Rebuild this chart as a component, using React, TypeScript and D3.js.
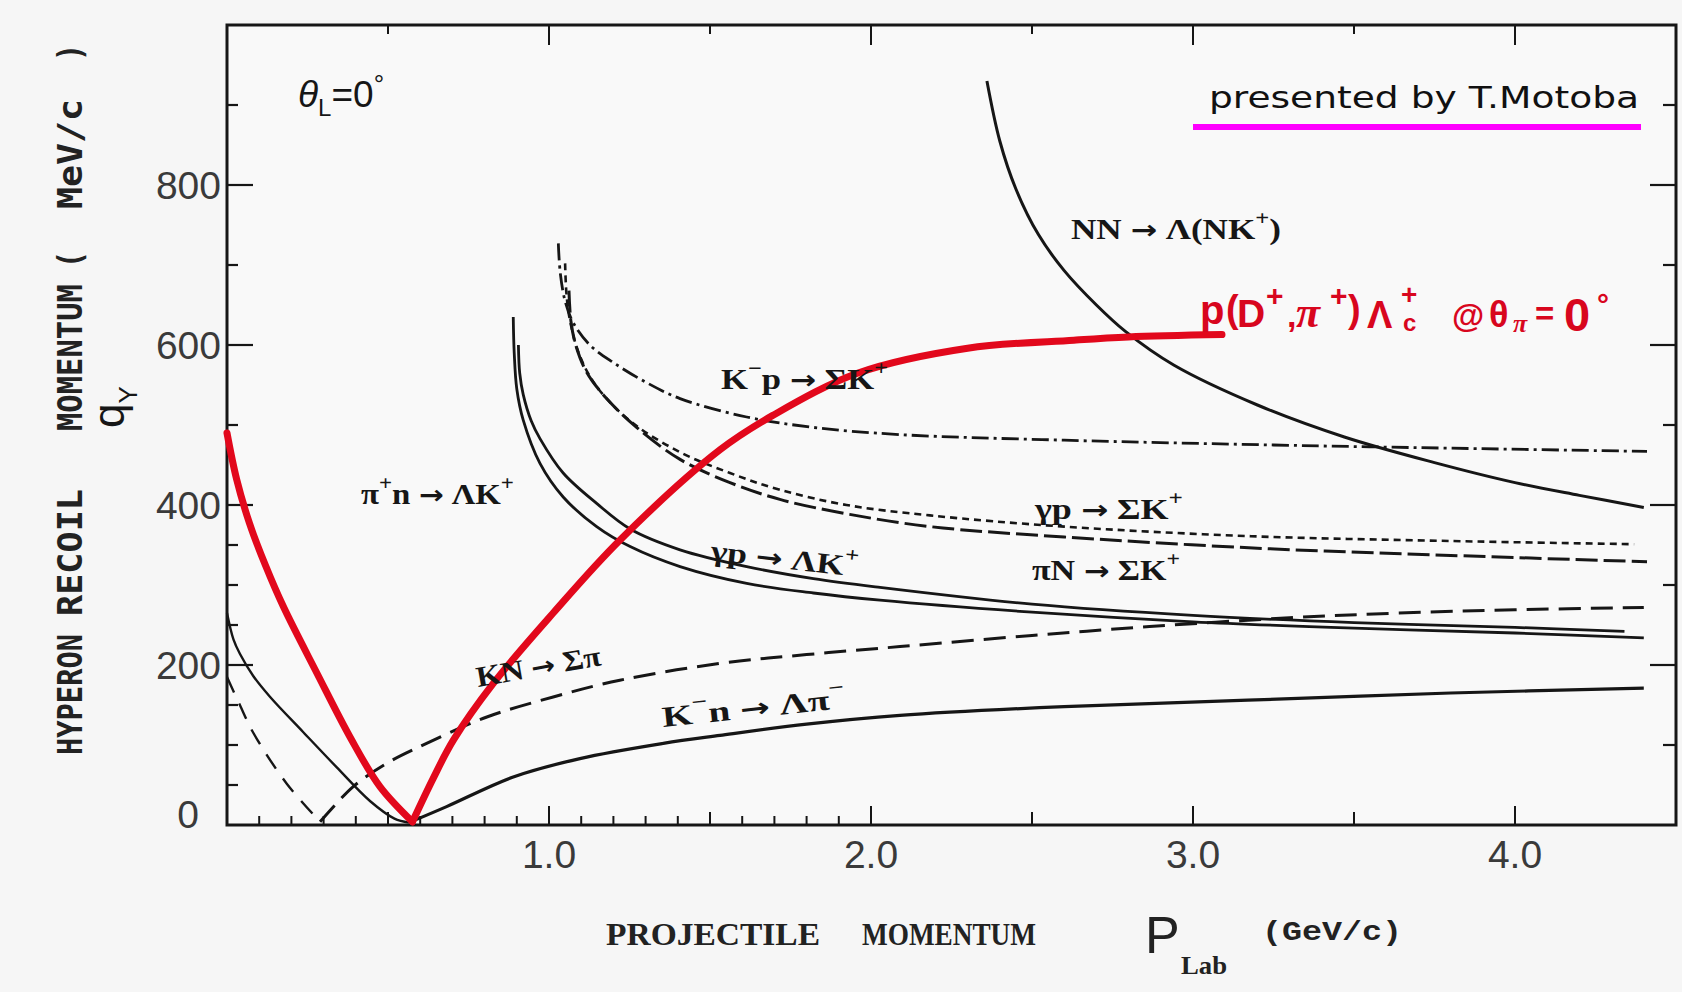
import React from "react";
import * as d3 from "d3";

type Pt = [number, number];

// projectile momentum p_lab (GeV/c) vs hyperon recoil momentum q (MeV/c), theta = 0
const nnLambdaNK: Pt[] = [[2.36, 930], [2.4, 855], [2.45, 795], [2.52, 738], [2.6, 693], [2.7, 650], [2.79, 617], [2.94, 575], [3.2, 525], [3.47, 485], [3.75, 453], [4.0, 428], [4.2, 412], [4.4, 397]];
const kmpSigmaK: Pt[] = [[1.029, 727], [1.035, 690], [1.05, 655], [1.075, 628], [1.127, 600], [1.2, 578], [1.303, 553], [1.407, 533], [1.614, 510], [1.821, 497], [2.09, 488], [2.6, 481], [3.25, 475], [3.8, 471], [4.41, 467]];
const gpSigmaK: Pt[] = [[1.05, 702], [1.055, 660], [1.068, 625], [1.096, 586], [1.148, 548], [1.252, 505], [1.407, 466], [1.562, 440], [1.717, 419], [1.924, 400], [2.183, 387], [2.6, 373], [3.18, 361], [3.8, 355], [4.37, 351]];
const piNSigmaK: Pt[] = [[1.062, 668], [1.068, 630], [1.083, 600], [1.117, 566], [1.179, 533], [1.272, 497], [1.407, 457], [1.562, 428], [1.717, 407], [1.924, 389], [2.183, 373], [2.6, 360], [3.2, 346], [3.8, 337], [4.41, 329]];
const pipnLambdaK: Pt[] = [[0.889, 635], [0.892, 590], [0.9, 545], [0.92, 506], [0.972, 452], [1.044, 410], [1.148, 373], [1.252, 348], [1.407, 323], [1.614, 302], [1.821, 290], [2.028, 281], [2.5, 266], [3.0, 254], [3.5, 246], [4.0, 240], [4.4, 234]];
const gpLambdaK: Pt[] = [[0.905, 600], [0.909, 565], [0.92, 538], [0.945, 505], [0.972, 483], [1.044, 440], [1.148, 402], [1.252, 370], [1.407, 344], [1.614, 323], [1.821, 308], [2.028, 297], [2.5, 276], [3.0, 262], [3.5, 253], [4.0, 247], [4.34, 242]];
const kbarNSigmaPiLow: Pt[] = [[0, 185], [0.04, 150], [0.082, 115], [0.185, 52], [0.289, 4]];
const kbarNSigmaPiHigh: Pt[] = [[0.289, 4], [0.392, 48], [0.496, 77], [0.599, 98], [0.807, 135], [1.013, 160], [1.22, 181], [1.531, 202], [1.8, 213], [2.09, 223], [2.5, 237], [2.865, 248], [3.3, 259], [3.64, 265], [4.0, 269], [4.4, 272]];
const kmnLambdaPiLow: Pt[] = [[0, 265], [0.02, 232], [0.04, 214], [0.082, 186], [0.134, 160], [0.237, 116], [0.341, 72], [0.444, 30], [0.52, 8], [0.565, 3]];
const kmnLambdaPiHigh: Pt[] = [[0.565, 3], [0.682, 23], [0.889, 60], [1.096, 83], [1.355, 102], [1.531, 112], [1.8, 126], [2.09, 137], [2.6, 148], [3.17, 156], [3.8, 165], [4.4, 171]];
const charmLow: Pt[] = [[0, 490], [0.03, 432], [0.07, 377], [0.12, 324], [0.175, 273], [0.279, 190], [0.382, 110], [0.475, 48], [0.576, 4]];
const charmHigh: Pt[] = [[0.576, 4], [0.64, 58], [0.703, 106], [0.827, 177], [1.013, 265], [1.22, 356], [1.531, 469], [1.695, 512], [1.96, 565], [2.3, 596], [2.63, 606], [2.8, 610], [3.09, 613]];

const xTickValues = [1, 2, 3, 4];
const xTickLabels = ["1.0", "2.0", "3.0", "4.0"];
const yTickValues = [0, 200, 400, 600, 800];
const yTickLabels = ["0", "200", "400", "600", "800"];
const bottomTicks = [0.1, 0.2, 0.3, 0.4, 0.5, 0.6, 0.7, 0.8, 0.9, 1, 1.1, 1.2, 1.3, 1.4, 1.5, 1.6, 1.7, 1.8, 1.9, 2, 2.5, 3, 3.5, 4];
const topTicks = [0.5, 1, 1.5, 2, 2.5, 3, 3.5, 4];
const leftTicks = [50, 100, 150, 200, 250, 300, 350, 400, 500, 600, 700, 800, 900];
const rightTicks = [100, 200, 300, 400, 500, 600, 700, 800, 900];

const W = 1682;
const H = 992;
const RED = "#e2081c";
const INK = "#161616";

const x = d3.scaleLinear().domain([0, 4.5]).range([227, 1676]);
const y = d3.scaleLinear().domain([0, 1000]).range([825, 25]);

const line = d3
  .line<Pt>()
  .x((d) => x(d[0]))
  .y((d) => y(d[1]))
  .curve(d3.curveCatmullRom.alpha(0.5));

const curves = [
  { data: nnLambdaNK, dash: undefined, w: 3 },
  { data: kmpSigmaK, dash: "17 5 3 5", w: 2.8 },
  { data: gpSigmaK, dash: "7 5", w: 2.6 },
  { data: piNSigmaK, dash: "22 6", w: 3 },
  { data: pipnLambdaK, dash: undefined, w: 2.8 },
  { data: gpLambdaK, dash: undefined, w: 2.8 },
  { data: kbarNSigmaPiLow, dash: "17 12", w: 2.4 },
  { data: kbarNSigmaPiHigh, dash: "22 10", w: 3 },
  { data: kmnLambdaPiLow, dash: undefined, w: 2.4 },
  { data: kmnLambdaPiHigh, dash: undefined, w: 3.2 },
];

type Part = [string, "n" | "sup" | "a"];

function parts(list: Part[], size: number) {
  let cur = 0;
  return list.map(([t, k], i) => {
    const target = k === "sup" ? -0.5 * size : 0;
    const dy = target - cur;
    cur = target;
    if (k === "a")
      return (
        <tspan key={i} dy={dy} fontFamily="DejaVu Sans, sans-serif" fontSize={size * 0.9}>
          {t}
        </tspan>
      );
    return (
      <tspan key={i} dy={dy} fontSize={k === "n" ? size : size * 0.7}>
        {t}
      </tspan>
    );
  });
}

const labels: { x: number; y: number; rot: number; len: number; p: Part[] }[] = [
  { x: 1071, y: 239, rot: 0, len: 210, p: [["NN ", "n"], ["→", "a"], [" Λ(NK", "n"], ["+", "sup"], [")", "n"]] },
  { x: 721, y: 389, rot: 0, len: 167, p: [["K", "n"], ["−", "sup"], ["p ", "n"], ["→", "a"], [" ΣK", "n"], ["+", "sup"]] },
  { x: 361, y: 504, rot: 0, len: 153, p: [["π", "n"], ["+", "sup"], ["n ", "n"], ["→", "a"], [" ΛK", "n"], ["+", "sup"]] },
  { x: 1035, y: 519, rot: 0, len: 148, p: [["γp ", "n"], ["→", "a"], [" ΣK", "n"], ["+", "sup"]] },
  { x: 1032, y: 580, rot: 0, len: 148, p: [["πN ", "n"], ["→", "a"], [" ΣK", "n"], ["+", "sup"]] },
  { x: 710, y: 560, rot: 6.5, len: 148, p: [["γp ", "n"], ["→", "a"], [" ΛK", "n"], ["+", "sup"]] },
  { x: 478, y: 687, rot: -10, len: 126, p: [["KN ", "n"], ["→", "a"], [" Σπ", "n"]] },
  { x: 663, y: 727, rot: -6, len: 184, p: [["K", "n"], ["−", "sup"], ["n ", "n"], ["→", "a"], [" Λπ", "n"], ["−", "sup"]] },
];

// red reaction label pieces: text, x, baseline, size, bold, italic serif
const redPieces: [string, number, number, number, boolean, boolean][] = [
  ["p", 1200, 324, 40, true, false],
  ["(", 1226, 322, 38, true, false],
  ["D", 1237, 327, 39, true, false],
  ["+", 1266, 306, 30, true, false],
  [",", 1287, 327, 34, true, false],
  ["π", 1296, 327, 44, true, true],
  ["+", 1330, 306, 30, true, false],
  [")", 1348, 322, 38, true, false],
  ["Λ", 1367, 328, 38, true, false],
  ["+", 1401, 304, 28, true, false],
  ["c", 1403, 331, 24, true, false],
  ["@", 1452, 327, 33, true, false],
  ["θ", 1489, 327, 36, true, false],
  ["π", 1513, 332, 26, true, true],
  ["=", 1535, 325, 33, true, false],
  ["0", 1564, 331, 47, true, false],
  ["°", 1597, 315, 30, true, false],
];

// rotated y-axis title words: text, bottom y, top y
const yTitle: [string, number, number][] = [
  ["HYPERON", 755, 634],
  ["RECOIL", 616, 489],
  ["MOMENTUM", 431, 284],
  ["(", 268, 251],
  ["MeV/c", 209, 99],
  [")", 61, 44],
];

export default function App() {
  return (
    <div style={{ position: "absolute", left: 0, top: 0, width: W, height: H }}>
      <svg width={W} height={H} style={{ display: "block" }}>
        <rect x={0} y={0} width={W} height={H} fill="#f6f6f6" />

        {/* frame */}
        <rect
          x={x(0)}
          y={y(1000)}
          width={x(4.5) - x(0)}
          height={y(0) - y(1000)}
          fill="#f9f9f9"
          stroke={INK}
          strokeWidth={3}
        />

        {/* ticks */}
        {bottomTicks.map((t) => {
          const len = Number.isInteger(t) ? 19 : Math.abs(t * 2 - Math.round(t * 2)) < 1e-6 ? 13 : 9;
          return <line key={"b" + t} x1={x(t)} x2={x(t)} y1={y(0)} y2={y(0) - len} stroke={INK} strokeWidth={2} />;
        })}
        {topTicks.map((t) => {
          const len = Number.isInteger(t) ? 20 : 9;
          return <line key={"t" + t} x1={x(t)} x2={x(t)} y1={y(1000)} y2={y(1000) + len} stroke={INK} strokeWidth={2} />;
        })}
        {leftTicks.map((t) => {
          const len = t % 200 === 0 ? 26 : 11;
          return <line key={"l" + t} x1={x(0)} x2={x(0) + len} y1={y(t)} y2={y(t)} stroke={INK} strokeWidth={2.2} />;
        })}
        {rightTicks.map((t) => {
          const len = t % 200 === 0 ? 26 : 13;
          return <line key={"r" + t} x1={x(4.5)} x2={x(4.5) - len} y1={y(t)} y2={y(t)} stroke={INK} strokeWidth={2.2} />;
        })}

        {/* tick labels */}
        {xTickValues.map((v, i) => (
          <text key={"xl" + v} x={x(v)} y={868} textAnchor="middle" fontFamily="Liberation Sans, Arial, sans-serif" fontSize={39} fill="#3a3a3a">
            {xTickLabels[i]}
          </text>
        ))}
        {yTickValues.map((v, i) => (
          <text
            key={"yl" + v}
            x={v === 0 ? 199 : 221}
            y={v === 0 ? 828 : y(v) + 14}
            textAnchor="end"
            fontFamily="Liberation Sans, Arial, sans-serif"
            fontSize={39}
            fill="#3a3a3a"
          >
            {yTickLabels[i]}
          </text>
        ))}

        {/* curves */}
        {curves.map((c, i) => (
          <path key={"c" + i} d={line(c.data) || ""} fill="none" stroke={INK} strokeWidth={c.w} strokeDasharray={c.dash} strokeLinecap="butt" />
        ))}
        {[charmLow, charmHigh].map((c, i) => (
          <path key={"red" + i} d={line(c) || ""} fill="none" stroke={RED} strokeWidth={7} strokeLinecap="round" strokeLinejoin="round" />
        ))}

        {/* curve labels */}
        {labels.map((l, i) => (
          <text
            key={"lab" + i}
            transform={`translate(${l.x},${l.y}) rotate(${l.rot})`}
            fontFamily="Liberation Serif, serif"
            fontWeight="bold"
            fill={INK}
            textLength={l.len}
            lengthAdjust="spacingAndGlyphs"
          >
            {parts(l.p, 29)}
          </text>
        ))}

        {/* theta_L = 0 */}
        <text x={298} y={107} fontFamily="Liberation Sans, Arial, sans-serif" fontSize={37} fill={INK}>
          <tspan fontStyle="italic">θ</tspan>
          <tspan fontSize={24} dy={9}>L</tspan>
          <tspan dy={-9}>=0</tspan>
          <tspan fontSize={26} dy={-14}>°</tspan>
        </text>

        {/* presenter note */}
        <text x={1209} y={108} fontFamily="DejaVu Sans, sans-serif" fontSize={31} fill="#111" textLength={430} lengthAdjust="spacingAndGlyphs">
          presented by T.Motoba
        </text>
        <rect x={1193} y={124} width={448} height={6} fill="#ff00ff" />

        {/* red reaction label */}
        {redPieces.map(([t, px, py, s, b, it], i) => (
          <text
            key={"rp" + i}
            x={px}
            y={py}
            fontFamily={it ? "Liberation Serif, serif" : "Liberation Sans, Arial, sans-serif"}
            fontStyle={it ? "italic" : "normal"}
            fontWeight={b ? "bold" : "normal"}
            fontSize={s}
            fill="#d8061e"
          >
            {t}
          </text>
        ))}

        {/* y-axis title */}
        {yTitle.map(([t, yb, yt]) => (
          <text
            key={"yt" + t}
            transform={`translate(82,${yb}) rotate(-90)`}
            fontFamily="DejaVu Sans Mono, monospace"
            fontWeight="bold"
            fontSize={33}
            fill="#222"
            textLength={yb - yt}
            lengthAdjust="spacingAndGlyphs"
          >
            {t}
          </text>
        ))}
        <text transform="translate(124,428) rotate(-90)" fontFamily="Liberation Sans, Arial, sans-serif" fontSize={44} fill={INK}>
          q<tspan fontSize={26} dy={13}>Y</tspan>
        </text>

        {/* x-axis title */}
        <text x={606} y={945} fontFamily="Liberation Serif, serif" fontWeight="bold" fontSize={32} fill="#222" textLength={214} lengthAdjust="spacingAndGlyphs">
          PROJECTILE
        </text>
        <text x={862} y={945} fontFamily="Liberation Serif, serif" fontWeight="bold" fontSize={32} fill="#222" textLength={174} lengthAdjust="spacingAndGlyphs">
          MOMENTUM
        </text>
        <text x={1145} y={953} fontFamily="Liberation Sans, Arial, sans-serif" fontSize={52} fill="#222">
          P
        </text>
        <text x={1181} y={974} fontFamily="Liberation Serif, serif" fontWeight="bold" fontSize={25} fill="#222" textLength={46} lengthAdjust="spacingAndGlyphs">
          Lab
        </text>
        <text x={1262} y={940} fontFamily="Liberation Mono, monospace" fontWeight="bold" fontSize={27} fill="#222" textLength={140} lengthAdjust="spacingAndGlyphs">
          (GeV/c)
        </text>
      </svg>
    </div>
  );
}
